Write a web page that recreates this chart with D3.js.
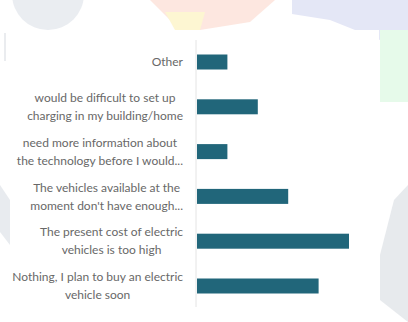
<!DOCTYPE html>
<html>
<head>
<meta charset="utf-8">
<script src="https://cdn.jsdelivr.net/npm/d3@7"></script>
<style>
  html, body { margin: 0; padding: 0; background: #fff; }
  svg { display: block; }
  .lbl { font-family: Lato, "Open Sans", sans-serif; font-size: 12px; fill: #686868; }
</style>
</head>
<body>
<svg id="chart" width="408" height="322"></svg>
<script>
// Survey answers (top to bottom) and their counts
const categories = [
  "Other",
  "would be difficult to set up\ncharging in my building/home",
  "need more information about\nthe technology before I would...",
  "The vehicles available at the\nmoment don't have enough...",
  "The present cost of electric\nvehicles is too high",
  "Nothing, I plan to buy an electric\nvehicle soon"
];
const counts = [1, 2, 1, 3, 5, 4];

const svg = d3.select("#chart");

// faint decorative backdrop shapes behind the card
const deco = svg.append("g").attr("opacity", 0.75);
deco.append("circle").attr("cx", 48).attr("cy", -6).attr("r", 36).attr("fill", "#e3e7ed");
deco.append("path").attr("d", "M150,0 L275,0 L250,22 L200,30 L180,30 Z").attr("fill", "#fde0d6");
deco.append("path").attr("d", "M165,12 L205,12 L200,30 L175,30 Z").attr("fill", "#fdf3c4");
deco.append("path").attr("d", "M292,0 L408,0 L408,45 L385,42 L330,20 L292,14 Z").attr("fill", "#dcdff4");
deco.append("rect").attr("x", 380).attr("y", 30).attr("width", 28).attr("height", 72).attr("fill", "#def9e4");
deco.append("path").attr("d", "M408,185 L394,200 L380,255 L380,300 L408,322 Z").attr("fill", "#dfe3e8");
deco.append("path").attr("d", "M0,185 L10,200 L10,245 L0,232 Z").attr("fill", "#e1e5ea");
deco.append("rect").attr("x", 4).attr("y", 33).attr("width", 2).attr("height", 28).attr("fill", "#e3e6ea");

// white card
svg.append("rect").attr("x", 10).attr("y", 30).attr("width", 369).attr("height", 292).attr("fill", "#fff");

const y = d3.scalePoint().domain(categories).range([62, 286]);
const x = d3.scaleLinear().domain([0, 5]).range([197, 349]);
const barH = 15;

// baseline axis
svg.append("line")
  .attr("x1", x(0) - 1).attr("x2", x(0) - 1)
  .attr("y1", 40).attr("y2", 307)
  .attr("stroke", "#e4e4e4").attr("stroke-width", 1);

svg.append("g").selectAll("rect").data(categories).join("rect")
  .attr("x", x(0))
  .attr("y", d => y(d) - barH / 2)
  .attr("width", (d, i) => x(counts[i]) - x(0))
  .attr("height", barH)
  .attr("fill", "#21667a");

// category labels: lines centred on each other, block right-aligned
const labelRight = 183;
const lineH = 18;
categories.forEach(c => {
  const lines = c.split("\n");
  const g = svg.append("g");
  const t = g.selectAll("text").data(lines).join("text")
    .attr("class", "lbl")
    .attr("text-anchor", "middle")
    .attr("dy", "0.35em")
    .attr("y", (d, i) => y(c) + (i - (lines.length - 1) / 2) * lineH)
    .text(d => d);
  let w = 0;
  t.each(function () { w = Math.max(w, this.getComputedTextLength()); });
  t.attr("x", labelRight - w / 2);
});
</script>
</body>
</html>
